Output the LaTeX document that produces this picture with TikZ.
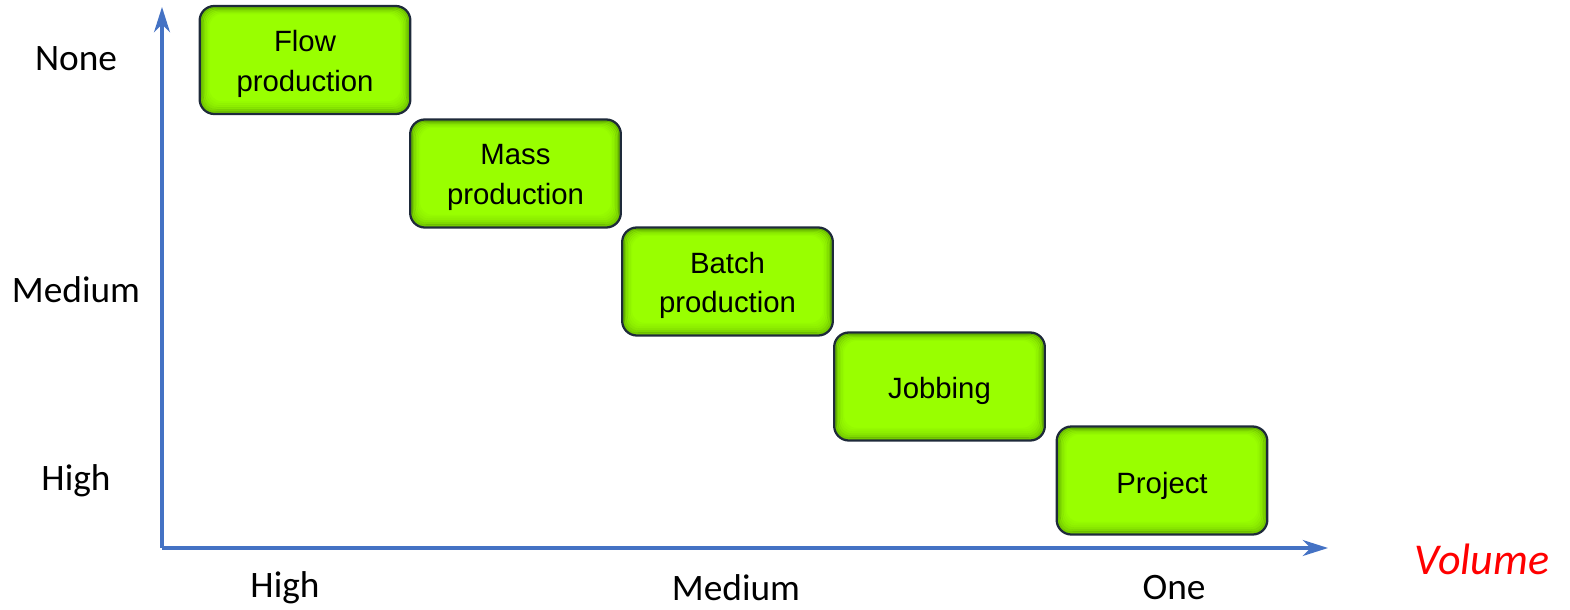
\documentclass[tikz,border=0pt]{standalone}
\usepackage{fontspec}
\setmainfont{Liberation Sans}
\newfontfamily\calib{Carlito}
\usetikzlibrary{arrows.meta}
\definecolor{axisblue}{HTML}{4472C4}
\definecolor{boxgreen}{HTML}{99FF00}
\definecolor{boxedge}{HTML}{1E2A3A}
\definecolor{glow}{HTML}{2E6400}
\begin{document}
\begin{tikzpicture}[x=0.75pt,y=-0.75pt,
  pbox/.style={rectangle, rounded corners=11pt, draw=boxedge, line width=1.7pt,
    fill=boxgreen, minimum width=158pt, minimum height=81pt, inner sep=0pt,
    path picture={
      \foreach \i/\o in {1/0.34,2/0.24,3/0.16,4/0.10,5/0.06,6/0.03}{
        \draw[glow, opacity=\o, line width=1.7pt, rounded corners=10pt]
          ([xshift=\i*1.1pt, yshift=\i*1.45pt]path picture bounding box.south west)
          rectangle ([xshift=-\i*1.1pt, yshift=-\i*0.9pt]path picture bounding box.north east);
      }
    }},
  ptext/.style={align=center, font=\fontsize{22}{29.5}\selectfont, inner sep=0pt},
  lbl/.style={font=\calib\fontsize{28}{32}\selectfont, inner sep=0pt},
  axis/.style={draw=axisblue, line width=2.3pt, -{Stealth[length=19pt, width=12pt, inset=6pt]}}
]
\useasboundingbox (0,0) rectangle (1570,610);
\coordinate (O) at (162,548);
\coordinate (Ytop) at (162,7);
\coordinate (Xend) at (1328,548);
\draw[axis] (O) -- (Ytop);
\draw[axis] (O) -- (Xend);

\node[pbox] (flow) at (305,60) {};
\node[pbox] (mass) at (515.5,173.5) {};
\node[pbox] (batch) at (727.5,281.5) {};
\node[pbox] (job) at (939.5,386.5) {};
\node[pbox] (proj) at (1162,480.5) {};

\node[ptext] (flowt) at ([yshift=-3pt]flow.center) {Flow\\production};
\node[ptext] (masst) at ([yshift=-3pt]mass.center) {Mass\\production};
\node[ptext] (batcht) at ([yshift=-3pt]batch.center) {Batch\\production};
\node[ptext] (jobt) at ([yshift=-3.5pt]job.center) {Jobbing};
\node[ptext] (projt) at ([yshift=-4pt]proj.center) {Project};

\node[lbl] (ynone) at (76,59) {None};
\node[lbl] (ymed) at (76,290) {Medium};
\node[lbl] (yhigh) at (76,481) {High};
\node[lbl] (xhigh) at (285,588) {High};
\node[lbl] (xmed) at (736,588) {Medium};
\node[lbl] (xone) at (1174,588) {One};
\node[font=\calib\itshape\fontsize{33}{38}\selectfont, text=red, inner sep=0pt] (vol) at (1482,559) {Volume};
\end{tikzpicture}
\end{document}
